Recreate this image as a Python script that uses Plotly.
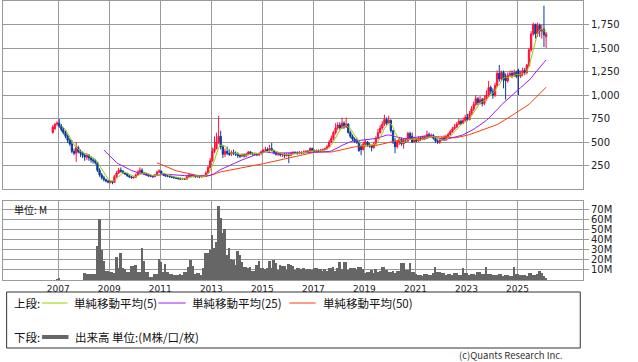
import pandas as pd
import plotly.graph_objects as go

# ---- monthly OHLC (Oct 2006 .. Feb 2026) ----
opens = [
    600, 640, 690,
    700, 670, 630, 600, 560, 520, 480, 400, 380, 440, 400, 380,
    360, 340, 360, 330, 310, 300, 280, 200, 150, 120, 100, 85,
    75, 80, 70, 130, 170, 200, 190, 170, 160, 140, 130, 120,
    125, 150, 180, 200, 170, 160, 150, 140, 135, 130, 150, 180,
    190, 160, 150, 140, 135, 130, 125, 120, 115, 110, 105, 110,
    105, 130, 150, 140, 145, 130, 135, 128, 140, 135, 170, 230,
    300, 400, 430, 500, 560, 450, 370, 400, 380, 370, 390, 380,
    370, 355, 350, 365, 350, 370, 395, 380, 370, 375, 365, 375,
    395, 410, 420, 405, 430, 410, 385, 370, 375, 365, 370, 355,
    370, 360, 380, 390, 385, 380, 390, 385, 395, 400, 395, 430,
    410, 400, 410, 405, 415, 420, 430, 450, 500, 540, 600, 650,
    680, 650, 700, 660, 690, 600, 560, 530, 505, 500, 450, 420,
    480, 500, 470, 460, 440, 480, 540, 600, 650, 690, 740, 700,
    730, 620, 500, 450, 500, 530, 480, 520, 510, 590, 560, 500,
    520, 510, 540, 530, 550, 540, 580, 560, 570, 540, 510, 500,
    520, 540, 520, 560, 580, 610, 640, 660, 690, 720, 700, 730,
    760, 740, 800, 850, 900, 960, 920, 950, 910, 960, 1000, 1080,
    1040, 1000, 1100, 1230, 1170, 1240, 1200, 1150, 1210, 1230, 1210, 1240,
    1260, 1200, 1230, 1260, 1240, 1310, 1480, 1650, 1750, 1650, 1740, 1680,
    1700, 1620,
]
highs = [
    680, 700, 720,
    745, 690, 650, 620, 580, 540, 520, 430, 500, 460, 420, 400,
    380, 380, 370, 350, 330, 320, 290, 220, 170, 140, 110, 95,
    95, 90, 150, 190, 225, 230, 200, 180, 165, 150, 140, 140,
    165, 200, 230, 220, 180, 170, 160, 150, 145, 160, 195, 210,
    195, 170, 160, 150, 145, 140, 135, 130, 125, 120, 120, 118,
    140, 165, 160, 160, 150, 150, 145, 150, 150, 190, 250, 330,
    440, 560, 600, 780, 620, 470, 430, 450, 420, 410, 420, 400,
    390, 370, 380, 380, 385, 400, 400, 390, 390, 385, 390, 410,
    425, 450, 440, 470, 490, 420, 400, 390, 385, 385, 380, 385,
    385, 395, 400, 400, 400, 405, 400, 410, 415, 415, 445, 440,
    420, 420, 420, 425, 430, 440, 470, 520, 570, 620, 700, 710,
    710, 760, 720, 760, 700, 620, 580, 550, 540, 510, 470, 500,
    520, 510, 490, 470, 500, 560, 640, 680, 720, 790, 760, 780,
    740, 630, 540, 520, 550, 545, 540, 540, 610, 610, 600, 540,
    540, 560, 560, 570, 570, 620, 600, 590, 585, 550, 530, 540,
    560, 570, 580, 600, 630, 660, 690, 710, 750, 740, 760, 790,
    800, 830, 880, 930, 1000, 980, 990, 970, 1000, 1050, 1150, 1100,
    1070, 1130, 1260, 1320, 1260, 1260, 1230, 1240, 1260, 1260, 1270, 1260,
    1280, 1260, 1290, 1290, 1330, 1500, 1680, 1770, 1760, 1770, 1760, 1750,
    1950, 1670,
]
lows = [
    590, 630, 670,
    650, 610, 580, 540, 490, 460, 380, 360, 290, 380, 340, 330,
    300, 310, 300, 280, 270, 260, 180, 130, 100, 80, 70, 60,
    60, 50, 65, 120, 160, 175, 160, 150, 130, 120, 110, 110,
    120, 145, 170, 160, 150, 140, 130, 125, 120, 125, 145, 170,
    150, 140, 130, 125, 120, 115, 110, 105, 100, 95, 95, 95,
    100, 125, 130, 125, 120, 120, 115, 120, 125, 130, 165, 220,
    290, 380, 420, 480, 420, 330, 340, 360, 350, 350, 360, 350,
    330, 330, 340, 335, 340, 360, 365, 355, 355, 350, 350, 365,
    385, 400, 390, 400, 400, 370, 355, 350, 345, 340, 330, 345,
    275, 350, 370, 370, 365, 370, 370, 375, 385, 385, 390, 400,
    390, 390, 395, 395, 405, 410, 420, 440, 490, 520, 580, 630,
    630, 640, 640, 650, 590, 540, 510, 490, 480, 395, 360, 410,
    460, 450, 440, 400, 430, 470, 530, 590, 630, 670, 680, 690,
    600, 480, 380, 430, 470, 460, 430, 490, 500, 520, 490, 490,
    495, 500, 510, 520, 520, 530, 540, 545, 525, 490, 480, 480,
    510, 510, 515, 550, 570, 600, 630, 650, 680, 680, 690, 720,
    720, 730, 790, 830, 880, 890, 900, 880, 890, 940, 980, 1010,
    960, 980, 1080, 1140, 1150, 1070, 950, 1130, 1190, 1180, 1190, 1180,
    1000, 1180, 1200, 1210, 1220, 1300, 1460, 1630, 1600, 1620, 1620, 1600,
    1510, 1500,
]
closes = [
    660, 690, 700,
    670, 630, 600, 560, 520, 480, 400, 380, 440, 400, 380, 360,
    340, 360, 330, 310, 300, 280, 200, 150, 120, 100, 85, 75,
    80, 70, 130, 170, 200, 190, 170, 160, 140, 130, 120, 125,
    150, 180, 200, 170, 160, 150, 140, 135, 130, 150, 180, 190,
    160, 150, 140, 135, 130, 125, 120, 115, 110, 105, 110, 105,
    130, 150, 140, 145, 130, 135, 128, 140, 135, 170, 230, 300,
    400, 430, 500, 560, 450, 370, 400, 380, 370, 390, 380, 370,
    355, 350, 365, 350, 370, 395, 380, 370, 375, 365, 375, 395,
    410, 420, 405, 430, 410, 385, 370, 375, 365, 370, 355, 370,
    360, 380, 390, 385, 380, 390, 385, 395, 400, 395, 430, 410,
    400, 410, 405, 415, 420, 430, 450, 500, 540, 600, 650, 680,
    650, 700, 660, 690, 600, 560, 530, 505, 500, 410, 420, 480,
    500, 470, 460, 440, 480, 540, 600, 650, 690, 740, 700, 730,
    620, 500, 450, 500, 530, 480, 520, 510, 590, 540, 500, 520,
    510, 540, 530, 550, 540, 580, 560, 570, 540, 510, 500, 520,
    540, 520, 560, 580, 610, 640, 660, 690, 720, 700, 730, 760,
    740, 800, 850, 900, 960, 920, 950, 910, 960, 1000, 1080, 1040,
    1000, 1100, 1230, 1170, 1240, 1160, 1150, 1210, 1230, 1210, 1240, 1200,
    1200, 1230, 1260, 1240, 1320, 1480, 1650, 1750, 1650, 1740, 1680, 1700,
    1640, 1650,
]
# volume in millions
volumes = [
    0, 0, 0.5,
    1.0, 0, 0, 0, 0, 0, 0, 0, 0, 0, 0, 0,
    6.7, 6, 6, 5.5, 5.5, 6, 34, 60, 30, 19, 9, 9,
    8, 7.5, 6.7, 22.7, 11.7, 26.7, 11.7, 10.7, 8.3, 8.3, 14, 14,
    15, 8, 8, 31.7, 19, 8, 8, 3.3, 3.3, 6, 6, 21,
    18, 8, 16, 8, 6, 6, 4.7, 5.3, 5.3, 6, 4.7, 8,
    8, 13, 20, 14, 6, 6.7, 6.7, 4.7, 11.7, 26.7, 26.7, 30,
    44, 31.7, 38, 72.7, 61.7, 46.7, 50, 25, 31.7, 20.7, 20, 15,
    29, 25, 18, 13, 13, 11.7, 13, 9, 9, 15, 19, 12,
    12, 10.7, 11.7, 19, 11.7, 20, 17, 10, 15, 14, 14, 10,
    16, 15, 14, 10, 11.7, 11.7, 10.7, 12, 10, 11, 11, 10,
    11.7, 11.7, 10.7, 10.7, 9.3, 11.3, 9.3, 11.7, 11.7, 13.3, 9.3, 12,
    18, 10.7, 17.7, 17.7, 10, 11.7, 11.7, 12.3, 10, 12.7, 12.7, 11.3,
    7.3, 8.3, 8.3, 10, 7.3, 10.7, 8.3, 9.3, 13.3, 13.3, 10, 8.3,
    8.3, 9.3, 6.7, 9.3, 9.3, 16.7, 16.7, 10, 10, 16.7, 8.3, 8.3,
    6, 4.7, 4.7, 4, 6, 6, 5.3, 5.3, 7.3, 12.7, 8.3, 8.3,
    6.7, 6.7, 5, 6, 6, 5, 6.7, 6.7, 4.7, 4.7, 11.7, 6.7,
    6.7, 5, 6, 6, 4.7, 8.3, 8.3, 6, 6, 12.7, 6, 6,
    5, 4.7, 4.7, 6, 6, 4, 5, 5, 4, 4, 12.7, 6,
    6, 4.7, 4.7, 5, 4, 6.7, 6.7, 5, 5, 6, 9.3, 6.7,
    4, 1.5,
]

year_ticks = [str(y) for y in range(2007, 2027, 2)]
price_ticks = [250, 500, 750, 1000, 1250, 1500, 1750]
vol_ticks = [10, 20, 30, 40, 50, 60, 70]
vol_tick_labels = [f"{v}M" for v in vol_ticks]

months = pd.date_range("2006-10-01", periods=len(closes), freq="MS") + pd.Timedelta(days=14)
cs = pd.Series(closes, dtype=float)
ma5 = cs.rolling(5).mean()
ma25 = cs.rolling(25).mean()
ma50 = cs.rolling(50).mean()

W, H = 638, 362
RED = "#ff0f3c"
BLUE = "#0a3c9c"
GREEN = "#99cc00"
PURPLE = "#9a1cf0"
ORANGE = "#ff3c0a"
VGRAY = "#666666"
GRID = "#9a9a9a"
JP = "Noto Sans CJK JP"
LAT = "DejaVu Sans"


def py(p):
    return 1 - p / H


def px(p):
    return p / W


fig = go.Figure()
fig.add_trace(go.Candlestick(
    x=months, open=opens, high=highs, low=lows, close=closes,
    increasing=dict(line=dict(color=RED, width=1), fillcolor=RED),
    decreasing=dict(line=dict(color=BLUE, width=1), fillcolor=BLUE),
    whiskerwidth=0, hoverinfo="skip", xaxis="x", yaxis="y"))
fig.add_trace(go.Scatter(x=months, y=ma50, mode="lines", line=dict(color=ORANGE, width=1),
                         hoverinfo="skip", xaxis="x", yaxis="y"))
fig.add_trace(go.Scatter(x=months, y=ma25, mode="lines", line=dict(color=PURPLE, width=1),
                         hoverinfo="skip", xaxis="x", yaxis="y"))
fig.add_trace(go.Scatter(x=months, y=ma5, mode="lines", line=dict(color=GREEN, width=1),
                         hoverinfo="skip", xaxis="x", yaxis="y"))
fig.add_trace(go.Bar(x=months, y=volumes, marker=dict(color=VGRAY, line=dict(width=0)),
                     hoverinfo="skip", xaxis="x2", yaxis="y2"))

xrange = ["2004-11-01", "2027-07-28"]
tickvals_x = [f"{y}-01-01" for y in year_ticks]

common_x = dict(range=xrange, type="date", tickvals=tickvals_x, ticktext=year_ticks,
                showgrid=True, gridcolor=GRID, gridwidth=1, showline=True, linecolor=GRID,
                linewidth=1, mirror=True, ticks="", zeroline=False)
common_y = dict(side="right", showgrid=True, gridcolor=GRID, gridwidth=1, showline=True,
                linecolor=GRID, linewidth=1, mirror=True, ticks="outside", ticklen=5,
                tickcolor=GRID, tickwidth=1, zeroline=False,
                tickfont=dict(family=LAT, size=10, color="#222222"))

fig.update_layout(
    width=W, height=H, margin=dict(l=3, r=55, t=0, b=0),
    paper_bgcolor="white", plot_bgcolor="white", showlegend=False,
    bargap=0, boxgap=0.05, hovermode=False,
    xaxis=dict(**common_x, anchor="y", domain=[0, 1], showticklabels=False,
               rangeslider=dict(visible=False)),
    yaxis=dict(**common_y, anchor="x", domain=[py(189), py(1)], range=[0, 2000],
               tickvals=price_ticks, tickformat=","),
    xaxis2=dict(**common_x, anchor="y2", domain=[0, 1], showticklabels=True,
                tickfont=dict(family=LAT, size=9, color="#222222")),
    yaxis2=dict(**common_y, anchor="x2", domain=[py(280), py(201)], range=[0, 78],
                tickvals=vol_ticks, ticktext=vol_tick_labels),
)

shapes = [
    dict(type="rect", xref="paper", yref="paper", x0=px(4), x1=px(635), y0=py(348), y1=py(292),
         line=dict(color="#333333", width=1), fillcolor="rgba(0,0,0,0)"),
    dict(type="line", xref="paper", yref="paper", x0=px(43), x1=px(71), y0=py(303), y1=py(303),
         line=dict(color=GREEN, width=1)),
    dict(type="line", xref="paper", yref="paper", x0=px(171), x1=px(201), y0=py(303), y1=py(303),
         line=dict(color=PURPLE, width=1)),
    dict(type="line", xref="paper", yref="paper", x0=px(315), x1=px(344), y0=py(303), y1=py(303),
         line=dict(color=ORANGE, width=1)),
    dict(type="line", xref="paper", yref="paper", x0=px(43), x1=px(72), y0=py(337), y1=py(337),
         line=dict(color=VGRAY, width=4)),
]
fig.update_layout(shapes=shapes)


def note(x, y, text, size=11, anchor="left", color="#111111", family=JP):
    fig.add_annotation(xref="paper", yref="paper", x=px(x), y=py(y), text=text,
                       showarrow=False, xanchor=anchor, yanchor="middle",
                       font=dict(family=family, size=size, color=color))


note(10, 303, "上段:", size=11.5)
note(76, 303, "単純移動平均(5)", size=11.5)
note(206, 303, "単純移動平均(25)", size=11.5)
note(350, 303, "単純移動平均(50)", size=11.5)
note(10, 337, "下段:", size=11.5)
note(77, 337, "出来高 単位:(M株/口/枚)", size=11.5)
note(618, 354.5, "(c)Quants Research Inc.", size=9.5, anchor="right", color="#333333")
note(10, 209, "単位: M", size=10)

fig.write_html("out.html", config={"displayModeBar": False})
